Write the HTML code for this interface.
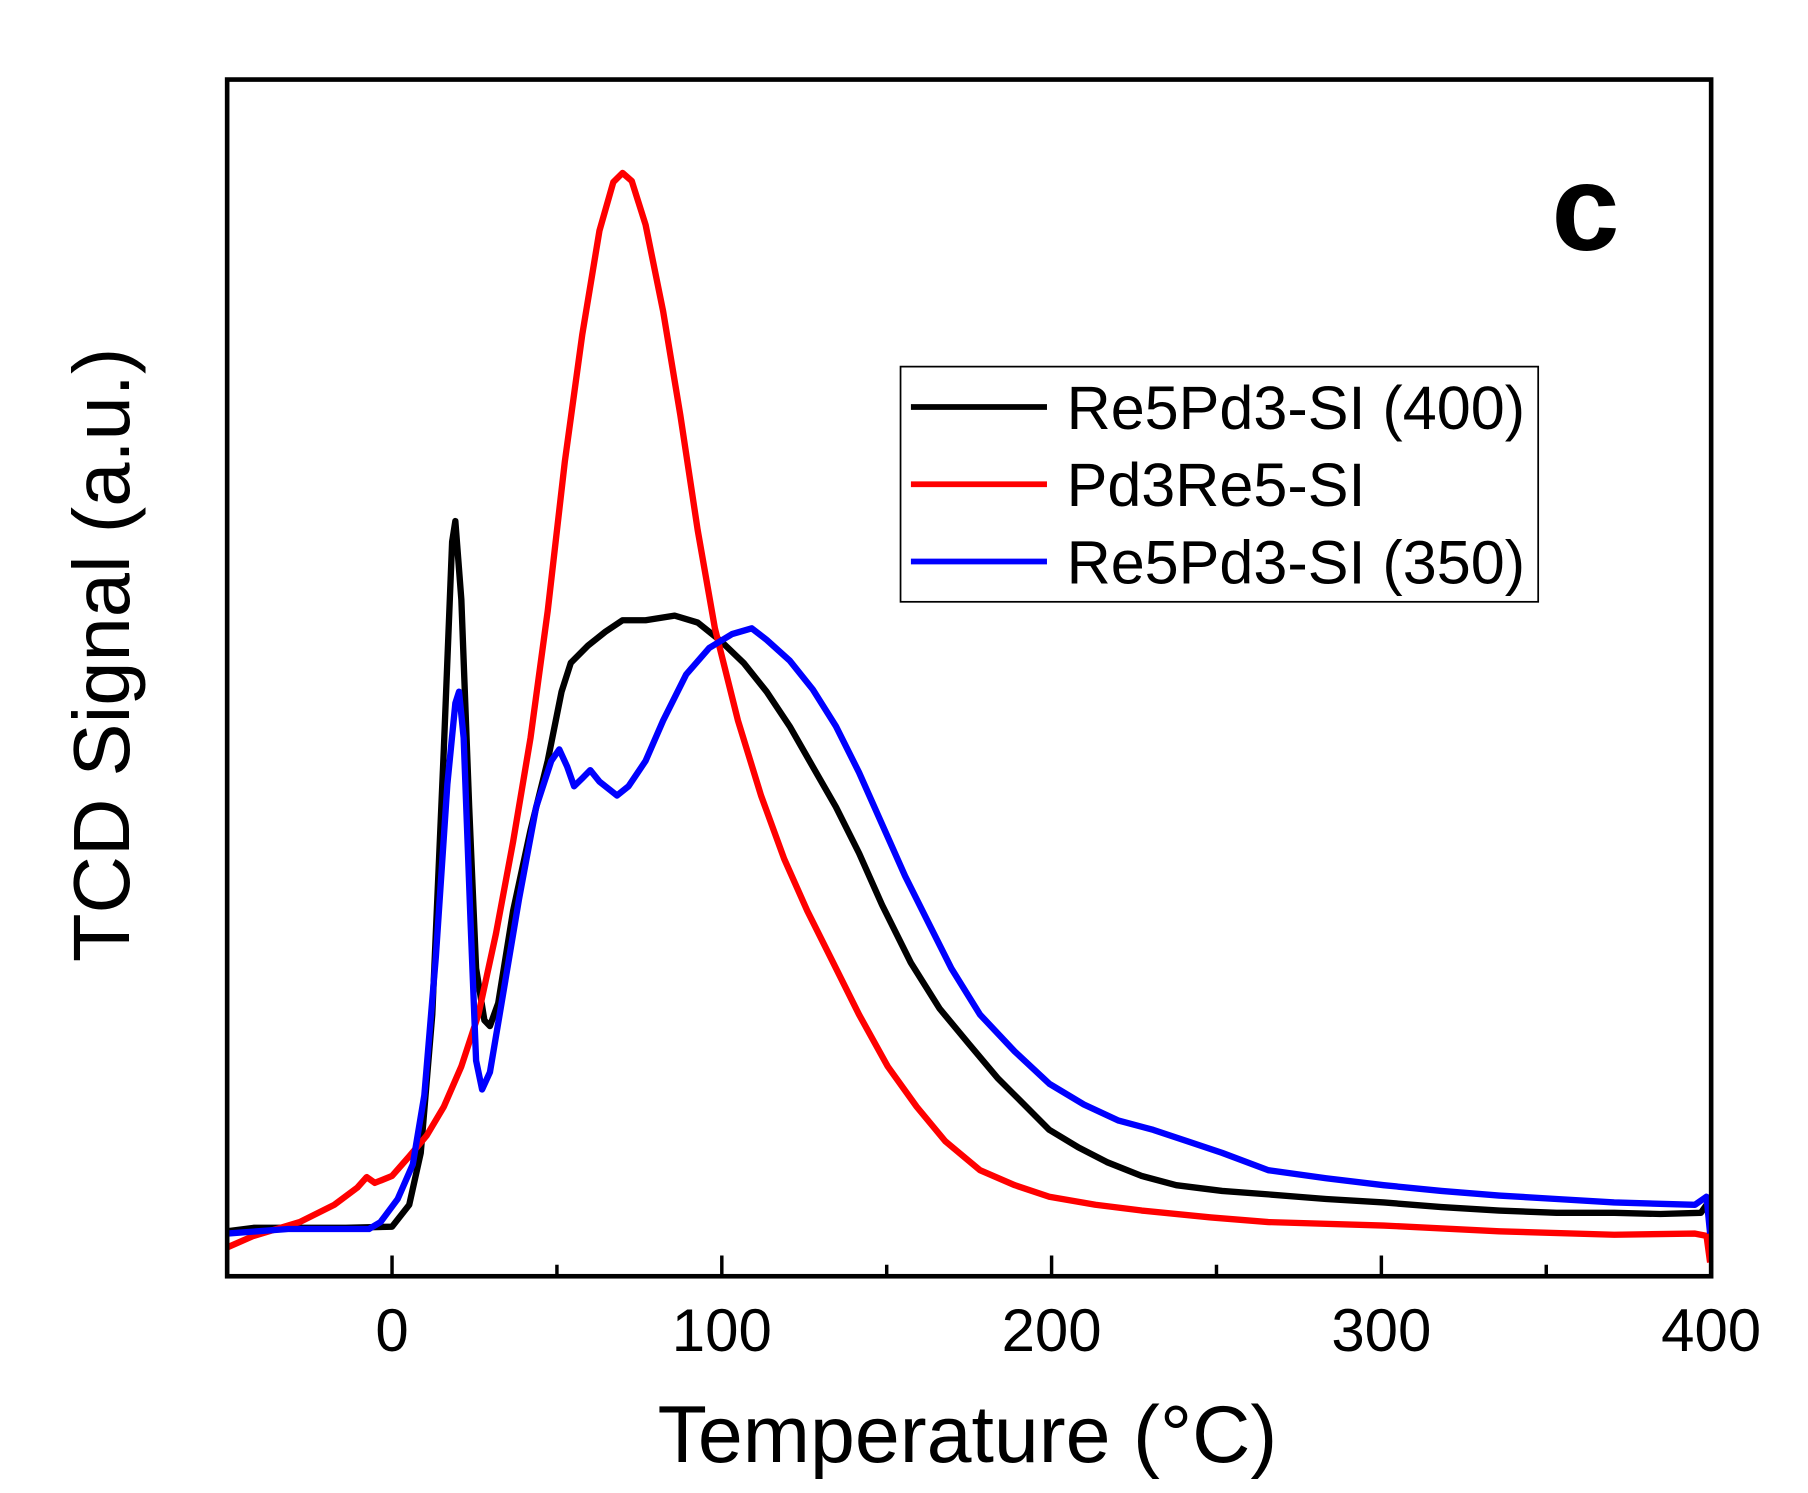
<!DOCTYPE html>
<html><head><meta charset="utf-8"><style>html,body{margin:0;padding:0;background:#fff}svg{display:block}text{font-family:"Liberation Sans",Arial,sans-serif}</style></head>
<body>
<svg id="chart" width="1808" height="1493" viewBox="0 0 1568 1295" preserveAspectRatio="none" xmlns="http://www.w3.org/2000/svg">
<g id="plot"></g>
<rect x="197" y="69" width="1287" height="1038" fill="none" stroke="#000" stroke-width="4"/>
<text x="1375" y="217" font-size="106" font-weight="bold" text-anchor="middle">c</text>
<g>
<rect x="781" y="318" width="553" height="204" fill="#fff" stroke="#000" stroke-width="1.5"/>
<line x1="790" y1="353" x2="908" y2="353" stroke="#000" stroke-width="5"/>
<text x="925" y="372" font-size="53">Re5Pd3-SI (400)</text>
<line x1="790" y1="420" x2="908" y2="420" stroke="#f00" stroke-width="5"/>
<text x="925" y="439" font-size="53">Pd3Re5-SI</text>
<line x1="790" y1="487" x2="908" y2="487" stroke="#00f" stroke-width="5"/>
<text x="925" y="506" font-size="53">Re5Pd3-SI (350)</text>
</g>
<text x="839" y="1268" font-size="70" text-anchor="middle">Temperature (°C)</text>
<text transform="translate(112,568) rotate(-90)" font-size="69" text-anchor="middle">TCD Signal (a.u.)</text>
</svg>
<script>
const xTicks = [0, 100, 200, 300, 400];
const xMinor = [50, 150, 250, 350];
const blackT = [-50,-42,-14,0,5.2,8.7,12.2,15.7,18.2,19.2,21.0,23.4,25.5,28.0,29.7,32.2,36.7,42.0,47.2,51.4,54.2,59.4,64.7,69.9,76.9,85.7,92.7,99.7,106.6,113.6,120.6,127.6,134.6,141.6,148.6,157.3,166.1,174.8,183.6,190.6,199.3,208.0,216.8,227.3,237.8,251.7,265.7,283.2,300.7,318.2,335.7,353.1,370.6,384.6,396.9,398.6,399.7];
const blackS = [3.9,4.2,4.2,4.3,6.2,10.7,22.7,45.7,63.7,65.5,58.7,40.7,26.7,22.2,21.7,23.7,31.7,38.7,44.7,50.7,53.2,54.7,55.9,56.9,56.9,57.3,56.7,55.1,53.2,50.7,47.7,44.2,40.7,36.7,32.2,27.2,23.2,20.2,17.2,15.2,12.7,11.2,9.9,8.7,7.9,7.4,7.1,6.7,6.4,6.0,5.7,5.5,5.5,5.4,5.5,6.2,4.7];
const redT = [-50,-42,-28,-17.5,-10.5,-7.7,-5.2,0,5.2,10.5,15.7,21.0,26.2,31.5,36.7,42.0,47.2,52.4,57.7,62.9,67.1,69.9,72.7,76.9,82.2,87.4,92.7,97.9,104.9,111.9,118.9,125.9,132.9,141.6,150.3,159.1,167.8,178.3,188.8,199.3,213.3,227.3,248.3,265.7,300.7,335.7,370.6,395.1,398.6,399.7];
const redS = [2.5,3.5,4.7,6.2,7.7,8.6,8.1,8.7,10.4,12.2,14.7,18.2,22.7,29.7,37.7,46.7,57.7,70.7,81.7,90.7,94.9,95.7,95.0,91.2,83.7,74.7,64.7,56.2,48.2,41.7,36.2,31.7,27.7,22.7,18.2,14.7,11.7,9.2,7.9,6.9,6.2,5.7,5.1,4.7,4.4,3.9,3.6,3.7,3.5,1.2];
const blueT = [-50,-31.5,-7.0,-3.5,1.7,6.3,9.8,13.3,16.8,19.2,20.3,21.7,23.8,25.5,27.3,29.7,33.2,38.5,43.7,48.3,50.7,53.1,55.2,57.7,60.1,62.9,68.2,71.7,76.9,82.2,89.2,96.2,103.1,109.1,113.6,120.6,127.6,134.6,141.6,148.6,155.6,162.6,169.6,178.3,188.8,199.3,209.8,220.3,230.8,241.3,251.7,265.7,283.2,300.7,318.2,335.7,353.1,370.6,395.1,398.6,399.7];
const blueS = [3.7,4.1,4.1,4.7,6.7,9.7,15.7,27.7,42.7,49.7,50.7,46.7,30.7,18.7,16.2,17.7,23.7,32.7,40.7,44.7,45.7,44.2,42.5,43.2,43.9,42.9,41.7,42.5,44.7,48.2,52.2,54.5,55.7,56.2,55.2,53.4,50.9,47.7,43.7,39.2,34.7,30.7,26.7,22.7,19.5,16.7,14.9,13.5,12.7,11.7,10.7,9.2,8.5,7.9,7.4,7.0,6.7,6.4,6.2,6.9,3.7];

const NS = 'http://www.w3.org/2000/svg';
const X0 = 197, X1 = 1484, Y0 = 1107, Y1 = 69;
function xs(t) { return X0 + (t + 50) / 450 * (X1 - X0); }
function ys(s) { return Y0 - s / 103.8 * (Y0 - Y1); }
const plot = document.getElementById('plot');
function mk(tag, attrs) { const e = document.createElementNS(NS, tag); for (const k in attrs) e.setAttribute(k, attrs[k]); return e; }

xTicks.forEach(v => {
  const l = mk('line', {x1: xs(v), x2: xs(v), y1: Y0, y2: Y0 - 18, stroke: '#000', 'stroke-width': 3});
  
  
  plot.appendChild(l);
  const t = mk('text', {x: xs(v), y: 1172, 'font-size': 52, 'text-anchor': 'middle'});
  t.textContent = v;
  
  
  plot.appendChild(t);
});
xMinor.forEach(v => {
  const l = mk('line', {x1: xs(v), x2: xs(v), y1: Y0, y2: Y0 - 10, stroke: '#000', 'stroke-width': 3});
  
  
  plot.appendChild(l);
});
function series(T, S, color, name) {
  const d = T.map((t, i) => (i ? 'L' : 'M') + xs(t).toFixed(1) + ' ' + ys(S[i]).toFixed(1)).join(' ');
  const p = mk('path', {d: d, fill: 'none', stroke: color, 'stroke-width': 5.5, 'stroke-linejoin': 'round'});
  
  
  plot.appendChild(p);
}
series(blackT, blackS, '#000', 'series-re5pd3-400');
series(redT, redS, '#f00', 'series-pd3re5');
series(blueT, blueS, '#00f', 'series-re5pd3-350');
</script>
</body></html>
